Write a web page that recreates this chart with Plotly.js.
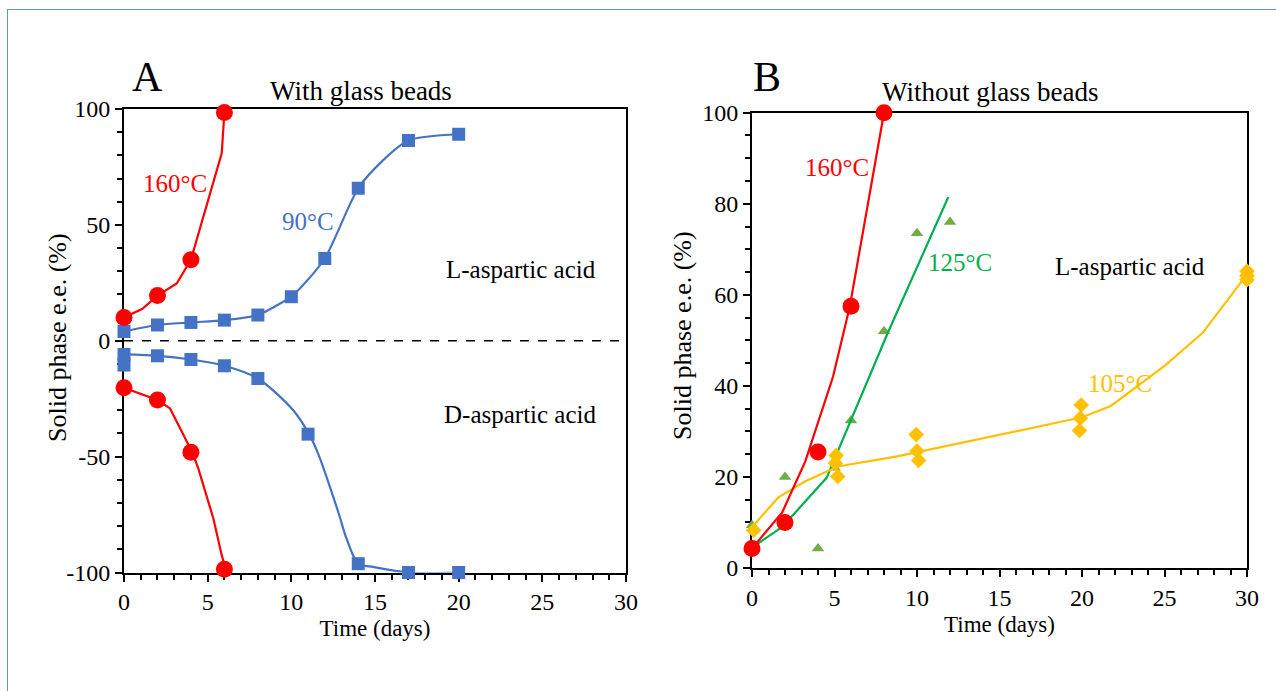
<!DOCTYPE html>
<html>
<head>
<meta charset="utf-8">
<script src="https://cdn.plot.ly/plotly-3.0.1.min.js"></script>
<style>
  html, body { margin: 0; padding: 0; background: #fff; }
  #wrap { position: relative; width: 1276px; height: 691px; overflow: hidden; }
  #frame { position: absolute; left: 7px; top: 9px; width: 1300px; height: 700px;
           border-top: 1px solid #5b9bbd; border-left: 1px solid #5b9bbd; pointer-events: none; }
  #chart { position: absolute; left: 0; top: 0; width: 1276px; height: 691px; }
</style>
</head>
<body>
<div id="wrap">
  <div id="chart"></div>
  <div id="frame"></div>
</div>
<script>
// ---------- Panel A: with glass beads ----------
const A_days_160L = [0, 2, 4, 6];
const A_ee_160L   = [10, 19.5, 35, 98.5];
const A_days_160D = [0, 2, 4, 6];
const A_ee_160D   = [-20.3, -25.6, -48.1, -98.6];
const A_days_90L  = [0, 2, 4, 6, 8, 10, 12, 14, 17, 20];
const A_ee_90L    = [4, 6.8, 7.9, 8.9, 11.1, 19, 35.5, 65.8, 86.4, 89.1];
const A_days_90D  = [0, 0, 2, 4, 6, 8, 11, 14, 17, 20];
const A_ee_90D    = [-5.9, -10.5, -6.5, -8.1, -10.8, -16.3, -40.3, -96.2, -100, -100];

// fitted curves
const A_fit160L_x = [0, 1.1, 2, 3.15, 4, 5.84, 6];
const A_fit160L_y = [10, 13.8, 19.5, 24.7, 35, 80.9, 98.5];
const A_fit160D_x = [0, 2, 2.75, 4.08, 4.44, 5.34, 5.84, 6.08];
const A_fit160D_y = [-20.3, -25.6, -29.2, -48.1, -55.1, -76.7, -92.5, -98.6];
const A_fit90L_x  = [0, 2, 4, 6, 8, 9, 10, 10.7, 12, 14, 15.4, 17, 20];
const A_fit90L_y  = [4, 6.8, 7.9, 8.9, 11.1, 14.7, 19, 24, 35.5, 65.8, 77.3, 86.4, 89.1];
const A_fit90D_x  = [0, 2, 4, 6, 8, 10.1, 11.06, 11.6, 12.8, 13.3, 14, 14.9, 17, 20];
const A_fit90D_y  = [-5.9, -6.5, -8.1, -10.8, -16.3, -29.9, -40.3, -48.7, -73.8, -85.4, -96.2, -97.6, -100, -100];

const A_ytick_vals = [-100, -50, 0, 50, 100];
const A_ytick_text = ['-100', '-50', '0', '50', '100'];

// ---------- Panel B: without glass beads ----------
const B_days_160 = [0, 2, 4, 6, 8];
const B_ee_160   = [4.3, 10, 25.5, 57.5, 100];
const B_days_125 = [0, 2, 4, 5, 6, 8, 10, 12];
const B_ee_125   = [9.4, 20, 4.3, 22, 32.4, 52, 73.5, 76];
const B_days_105 = [0.1, 5.1, 5.05, 5.2, 9.95, 10, 10.1, 19.95, 19.9, 19.85, 30, 30, 30];
const B_ee_105   = [8.3, 24.7, 23, 20.1, 29.3, 25.7, 23.6, 35.8, 32.9, 30.2, 65.2, 64.2, 63.3];

const B_fit160_x = [0, 1.83, 3.23, 4.91, 5.93, 8];
const B_fit160_y = [4.3, 12.2, 23.4, 42, 57.5, 100];
const B_fit125_x = [0, 1.83, 4.52, 8.2, 11.9];
const B_fit125_y = [4.5, 9, 19.8, 51.4, 81.5];
const B_fit105_x = [0.1, 1.6, 3.2, 5.2, 8.8, 10.1, 13.1, 16.8, 20, 21.75, 25, 27.3, 30];
const B_fit105_y = [9.4, 15.5, 19, 22.3, 24.5, 25.5, 27.7, 30.6, 33.1, 35.6, 44.4, 51.6, 64.5];

const RED = '#ff0000', BLUE = '#4472c4', GREEN = '#00b050', TRI = '#70ad47', YEL = '#ffc000';
const FONT = '"Liberation Serif", "Times New Roman", serif';

function line(x, y, color, xa, ya, shape) {
  return { x, y, xaxis: xa, yaxis: ya, type: 'scatter', mode: 'lines', hoverinfo: 'skip',
           line: { color, width: 2.2, shape: shape || 'linear', smoothing: 0.8 }, cliponaxis: false, showlegend: false };
}
function pts(x, y, color, symbol, size, xa, ya) {
  return { x, y, xaxis: xa, yaxis: ya, type: 'scatter', mode: 'markers',
           marker: { color, symbol, size, line: { width: 0 } }, cliponaxis: false, showlegend: false };
}

const data = [
  line(A_fit160L_x, A_fit160L_y, RED, 'x', 'y'),
  line(A_fit160D_x, A_fit160D_y, RED, 'x', 'y'),
  line(A_fit90L_x, A_fit90L_y, BLUE, 'x', 'y', 'spline'),
  line(A_fit90D_x, A_fit90D_y, BLUE, 'x', 'y', 'spline'),
  pts(A_days_90L, A_ee_90L, BLUE, 'square', 13, 'x', 'y'),
  pts(A_days_90D, A_ee_90D, BLUE, 'square', 13, 'x', 'y'),
  pts(A_days_160L, A_ee_160L, RED, 'circle', 17, 'x', 'y'),
  pts(A_days_160D, A_ee_160D, RED, 'circle', 17, 'x', 'y'),

  pts(B_days_125, B_ee_125, TRI, 'triangle-up', 11, 'x2', 'y2'),
  line(B_fit125_x, B_fit125_y, GREEN, 'x2', 'y2'),
  line(B_fit105_x, B_fit105_y, YEL, 'x2', 'y2'),
  line(B_fit160_x, B_fit160_y, RED, 'x2', 'y2'),
  pts(B_days_105, B_ee_105, YEL, 'diamond', 12, 'x2', 'y2'),
  pts(B_days_160, B_ee_160, RED, 'circle', 17, 'x2', 'y2')
];

const TICKF = { family: FONT, size: 24, color: '#000' };
const XTITF = { family: FONT, size: 23, color: '#000' };
function ax(extra) {
  const base = {
    showline: true, mirror: true, linecolor: '#000', linewidth: 2,
    ticks: 'outside', ticklen: 7, tickwidth: 2, tickcolor: '#000',
    showgrid: false, zeroline: false, layer: 'below traces',
    tickfont: TICKF
  };
  return Object.assign(base, extra);
}
function minor(d) { return { dtick: d, ticks: 'outside', ticklen: 5, tickwidth: 2, tickcolor: '#000', showgrid: false }; }

const W = 1276, H = 691;
function ann(text, x, y, size, color, extra) {
  return Object.assign({ text, xref: 'paper', yref: 'paper', x: x / W, y: 1 - y / H, showarrow: false,
           xanchor: 'center', yanchor: 'middle', font: { family: FONT, size, color } }, extra || {});
}
function dann(text, xr, yr, x, y, size, color) {
  return { text, xref: xr, yref: yr, x, y, showarrow: false, xanchor: 'center', yanchor: 'middle',
           font: { family: FONT, size, color } };
}

const layout = {
  width: W, height: H,
  margin: { l: 0, r: 0, t: 0, b: 0 },
  paper_bgcolor: '#fff', plot_bgcolor: '#fff',
  font: { family: FONT, color: '#000' },
  xaxis: ax({ domain: [124 / W, 626 / W], range: [0, 30], dtick: 5, tick0: 0, anchor: 'y',
              minor: minor(1), title: { text: 'Time (days)', standoff: 6, font: XTITF } }),
  yaxis: ax({ domain: [1 - 572.5 / H, 1 - 109 / H], range: [-100, 100], anchor: 'x',
              tickmode: 'array', tickvals: A_ytick_vals, ticktext: A_ytick_text,
              minor: { tickmode: 'linear', tick0: 0, dtick: 10, ticks: 'outside', ticklen: 5, tickwidth: 2, tickcolor: '#000', showgrid: false } }),
  xaxis2: ax({ domain: [752 / W, 1247 / W], range: [0, 30], dtick: 5, tick0: 0, anchor: 'y2',
               minor: minor(1), title: { text: 'Time (days)', standoff: 6, font: XTITF } }),
  yaxis2: ax({ domain: [1 - 568 / H, 1 - 112.7 / H], range: [0, 100], dtick: 20, tick0: 0, anchor: 'x2',
               minor: minor(5) }),
  shapes: [
    { type: 'line', xref: 'x domain', yref: 'y', x0: 0, x1: 1, y0: 0, y1: 0,
      line: { color: '#000', width: 1.5, dash: 'dash' }, layer: 'below' }
  ],
  annotations: [
    ann('A', 147, 77, 42, '#000'),
    ann('With glass beads', 361, 91, 27, '#000'),
    ann('B', 767, 77, 42, '#000'),
    ann('Without glass beads', 990, 92, 27, '#000'),
    ann('Solid phase e.e. (%)', 57, 337, 26, '#000', { textangle: -90 }),
    ann('Solid phase e.e. (%)', 682, 336, 26, '#000', { textangle: -90 }),

    dann('160°C', 'x', 'y', 3.05, 68, 25, RED),
    dann('90°C', 'x', 'y', 11, 51.4, 25, BLUE),
    dann('L-aspartic acid', 'x', 'y', 23.7, 30.7, 25, '#000'),
    dann('D-aspartic acid', 'x', 'y', 23.7, -32, 25, '#000'),

    dann('160°C', 'x2', 'y2', 5.14, 87.9, 25, RED),
    dann('125°C', 'x2', 'y2', 12.6, 67, 25, GREEN),
    dann('L-aspartic acid', 'x2', 'y2', 22.9, 66.2, 25, '#000'),
    dann('105°C', 'x2', 'y2', 22.3, 40.6, 25, YEL)
  ]
};

Plotly.newPlot('chart', data, layout, { staticPlot: true, displayModeBar: false });
</script>
</body>
</html>
